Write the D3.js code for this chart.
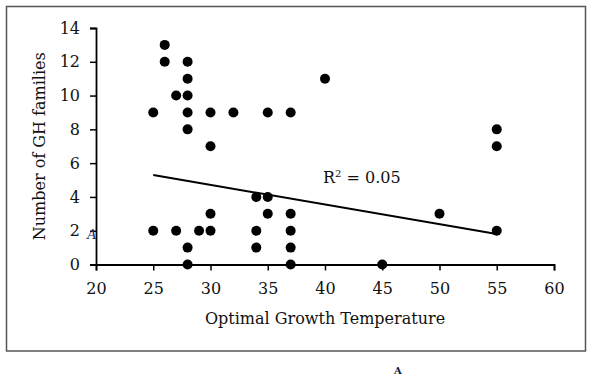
<!DOCTYPE html>
<html>
<head>
<meta charset="utf-8">
<script src="https://cdn.jsdelivr.net/npm/d3@7"></script>
<style>
  body { margin: 0; background: #fff; }
  text { font-family: "DejaVu Serif", serif; }
</style>
</head>
<body>
<div id="container"></div>
<script>
/* DATA */
const temps    = [25, 25, 26, 26, 27, 27, 28, 28, 28, 28, 28, 28, 28, 29, 30, 30, 30, 30, 32, 34, 34, 34, 35, 35, 35, 37, 37, 37, 37, 37, 40, 45, 50, 55, 55, 55];
const families = [ 9,  2, 13, 12, 10,  2, 12, 11, 10,  9,  8,  1,  0,  2,  9,  7,  3,  2,  9,  4,  2,  1,  9,  4,  3,  9,  3,  2,  1,  0, 11,  0,  3,  8,  7,  2];
const trendX = [25, 55];
const trendY = [5.3, 1.8];
const xTicks = [20, 25, 30, 35, 40, 45, 50, 55, 60];
const yTicks = [0, 2, 4, 6, 8, 10, 12, 14];

const data = temps.map((t, i) => ({ t: t, n: families[i] }));

/* CONSTANTS */
const W = 594, H = 386;
const margin = { top: 28, right: 40, bottom: 121.5, left: 96 };
const width = W - margin.left - margin.right;
const height = H - margin.top - margin.bottom;

const svg = d3.select("#container")
  .append("svg")
  .attr("width", W)
  .attr("height", H);

// outer frame
svg.append("rect")
  .attr("x", 6.5).attr("y", 6.5)
  .attr("width", 579).attr("height", 344.5)
  .attr("fill", "none")
  .attr("stroke", "#555")
  .attr("stroke-width", 1.5);

const g = svg.append("g")
  .attr("transform", `translate(${margin.left}, ${margin.top})`);

/* SCALES */
const xScale = d3.scaleLinear().domain([20, 60]).range([0, width]);
const yScale = d3.scaleLinear().domain([0, 14]).range([height, 0]);

/* AXES */
const xAxis = g.append("g")
  .attr("transform", `translate(0, ${height})`)
  .call(d3.axisBottom(xScale).tickValues(xTicks).tickSizeOuter(0).tickSize(6).tickPadding(12));

const yAxis = g.append("g")
  .call(d3.axisLeft(yScale).tickValues(yTicks).tickSizeOuter(0).tickSize(6).tickPadding(10));

[xAxis, yAxis].forEach(ax => {
  ax.select(".domain").attr("stroke", "#000").attr("stroke-width", 1.8);
  ax.selectAll(".tick line").attr("stroke", "#000").attr("stroke-width", 1.5);
  ax.selectAll(".tick text")
    .attr("fill", "#111")
    .style("font-family", "'DejaVu Serif', serif")
    .style("font-size", "16px");
});

// trend line
g.append("line")
  .attr("x1", xScale(trendX[0])).attr("y1", yScale(trendY[0]))
  .attr("x2", xScale(trendX[1])).attr("y2", yScale(trendY[1]))
  .attr("stroke", "#000")
  .attr("stroke-width", 2);

// dots
g.selectAll("circle.dot")
  .data(data)
  .join("circle")
  .attr("class", "dot")
  .attr("cx", d => xScale(d.t))
  .attr("cy", d => yScale(d.n))
  .attr("r", 5)
  .attr("fill", "#000");

// R squared label
const r2 = svg.append("text")
  .attr("x", 323)
  .attr("y", 183)
  .style("font-size", "16px")
  .attr("fill", "#111");
r2.append("tspan").text("R");
r2.append("tspan").text("2").attr("dy", -6).style("font-size", "10px");
r2.append("tspan").text(" = 0.05").attr("dy", 6);

// axis titles
svg.append("text")
  .attr("x", margin.left + width / 2)
  .attr("y", 324)
  .attr("text-anchor", "middle")
  .style("font-size", "16px")
  .attr("fill", "#111")
  .text("Optimal Growth Temperature");

svg.append("text")
  .attr("transform", `translate(45, ${margin.top + height / 2}) rotate(-90)`)
  .attr("text-anchor", "middle")
  .style("font-size", "16px")
  .attr("fill", "#111")
  .text("Number of GH families");

// stray panel marks
svg.append("text")
  .attr("x", 92).attr("y", 239)
  .attr("text-anchor", "middle")
  .style("font-size", "13px")
  .style("font-style", "italic")
  .attr("fill", "#1a2a6a")
  .text("A");

svg.append("text")
  .attr("x", 398).attr("y", 374)
  .attr("text-anchor", "middle")
  .style("font-size", "10px")
  .style("font-weight", "bold")
  .attr("fill", "#10163a")
  .text("A");
</script>
</body>
</html>
